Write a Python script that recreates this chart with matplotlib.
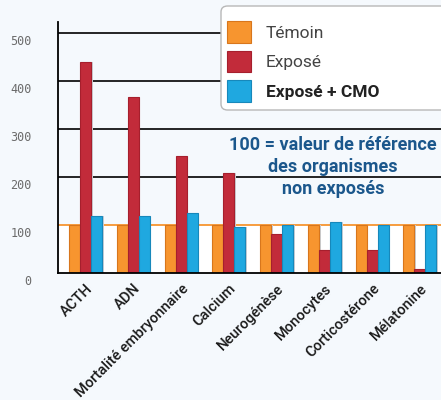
import matplotlib.pyplot as plt
import matplotlib as mpl
from matplotlib.patches import FancyBboxPatch, Patch
import numpy as np

mpl.use("agg")

categories = ["ACTH", "ADN", "Mortalité embryonnaire", "Calcium",
              "Neurogénèse", "Monocytes", "Corticostérone", "Mélatonine"]
temoin = [100, 100, 100, 100, 100, 100, 100, 100]
expose = [439, 366, 243, 209, 81, 48, 48, 8]
expose_cmo = [118, 118, 125, 95, 100, 106, 99, 99]
series_names = ["Témoin", "Exposé", "Exposé + CMO"]
y_ticks = [0, 100, 200, 300, 400, 500]

BG = "#f5f9fd"
ORANGE, ORANGE_E = "#f7952f", "#d8761c"
RED, RED_E = "#c22b3a", "#a61f2d"
BLUE, BLUE_E = "#1fa8e0", "#1788bb"
NAVY = "#1b578c"

fig = plt.figure(figsize=(4.41, 4.0), dpi=100, facecolor=BG)
ax = fig.add_axes([58 / 441, 127 / 400, 383 / 441, 251 / 400])
ax.set_facecolor(BG)

x = np.arange(len(categories))
w = 0.23

# white band under the reference line
ax.axhspan(0, 100, color="white", zorder=0)
for v in [200, 300, 400, 500]:
    ax.axhline(v, color="black", lw=1.2, zorder=1)
ax.axhline(100, color=ORANGE, lw=1.3, zorder=1)

series = [(temoin, ORANGE, ORANGE_E), (expose, RED, RED_E),
          (expose_cmo, BLUE, BLUE_E)]
for j, (vals, col, ecol) in enumerate(series):
    pos = x + (j - 1) * w
    # soft shadow
    ax.bar(pos + 0.035, vals, w, color="#c9cdd3", zorder=2, linewidth=0)
    ax.bar(pos, vals, w, color=col, edgecolor=ecol, linewidth=0.8, zorder=3)

ax.set_xlim(-0.575, 7.44)
ax.set_ylim(0, 523)

for side in ["top", "right"]:
    ax.spines[side].set_visible(False)
ax.spines["left"].set_linewidth(1.3)
ax.spines["bottom"].set_linewidth(1.3)
ax.spines["left"].set_zorder(5)
ax.spines["bottom"].set_zorder(5)

ax.set_yticks(y_ticks)
ax.set_yticklabels([str(v) for v in y_ticks], family="DejaVu Sans Mono",
                   fontsize=8.5, color="#6b6b6b")
ax.tick_params(axis="y", length=0, pad=19)
shift = mpl.transforms.ScaledTranslation(0, -7 / 100, fig.dpi_scale_trans)
for lab in ax.get_yticklabels():
    lab.set_transform(lab.get_transform() + shift)

ax.set_xticks(x)
ax.set_xticklabels(categories, rotation=45, ha="right",
                   rotation_mode="anchor", family=["Roboto", "DejaVu Sans"],
                   fontweight="medium", fontsize=10.5, color="#1a1a1a")
ax.tick_params(axis="x", length=0, pad=6)

# legend box running past the right edge
box = FancyBboxPatch((221 / 441, 1 - 110 / 400), 260 / 441, 104 / 400,
                     boxstyle="round,pad=0,rounding_size=0.015",
                     transform=fig.transFigure, facecolor="white",
                     edgecolor="#b8b8b8", lw=1.0, zorder=10)
fig.patches.append(box)

handles = [Patch(facecolor=c, edgecolor=e, lw=0.8) for _, c, e in series]
leg = fig.legend(handles, series_names, loc="upper left",
                 bbox_to_anchor=(227 / 441, 1 - 21 / 400),
                 frameon=False, handlelength=1.4,
                 handleheight=1.55, labelspacing=0.45, handletextpad=0.85,
                 borderpad=0, borderaxespad=0,
                 prop={"family": ["Roboto", "DejaVu Sans"], "size": 12.5})
leg.set_zorder(11)
for i, t in enumerate(leg.get_texts()):
    t.set_color("#444444" if i < 2 else "#222222")
    if i == 2:
        t.set_fontweight("bold")

fig.text(333 / 441, 1 - 167 / 400,
         "100 = valeur de référence\ndes organismes\nnon exposés",
         ha="center", va="center", fontsize=13, fontweight="bold",
         color=NAVY, linespacing=1.25,
         family=["Roboto", "DejaVu Sans"])

fig.savefig("out.png", dpi=100, facecolor=BG)
